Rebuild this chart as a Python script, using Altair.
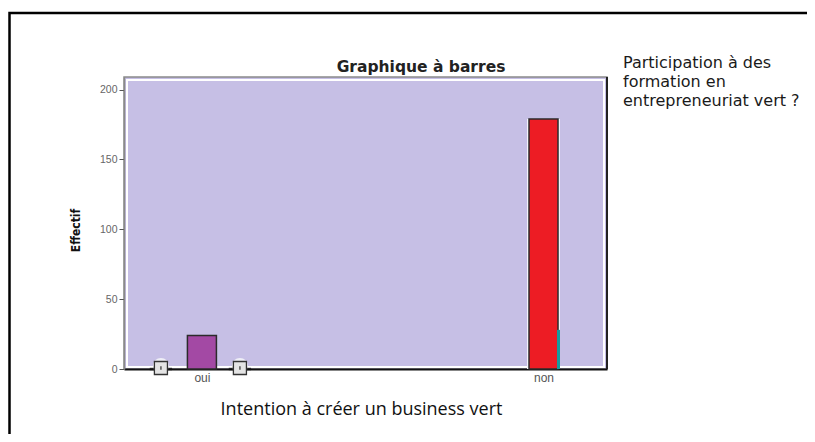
import altair as alt
import pandas as pd

# ---- data ----
intention = ["oui", "non"]
effectif = [24, 179]
bar_colors = ["#A349A4", "#ED1C24"]
sliver_intention = ["non"]
sliver_effectif = [28]
marker_intention = ["oui"]
marker_effectif = [0]
legend_title = ["Participation à des", "formation en", "entrepreneuriat vert ?"]
chart_title = "Graphique à barres"
y_ticks = [0, 50, 100, 150, 200]

bars = pd.DataFrame({"intention": intention, "effectif": effectif})
sliver = pd.DataFrame({"intention": sliver_intention, "effectif": sliver_effectif})
markers = pd.DataFrame({"intention": marker_intention, "effectif": marker_effectif})
one_row = pd.DataFrame({"t": [chart_title]})

W, H = 483, 292

xscale = alt.Scale(type="point", domain=intention, padding=0.207, align=0.551)
yscale = alt.Scale(domain=[0, 209], nice=False)

x_axis = alt.Axis(
    title="Intention à créer un business vert", titleFont="Open Sans", titleFontSize=18,
    titleFontWeight="normal", titleColor="#111", titleX=237, titleY=40, titleBaseline="middle",
    labelFont="Liberation Sans", labelFontSize=12, labelColor="#555", labelPadding=3,
    labelAngle=0, ticks=False, domainColor="#111", domainWidth=2,
)
y_axis = alt.Axis(
    values=y_ticks, title="Effectif", titleFont="DejaVu Sans Condensed", titleFontSize=12,
    titleFontWeight="bold", titleColor="#111", titleX=-49, titleY=153, titleAlign="center",
    titleBaseline="middle", titleAngle=270,
    labelFont="Liberation Sans", labelFontSize=10.5, labelColor="#666", labelPadding=2,
    tickColor="#555", tickSize=5, domainColor="#8a8a8a", domainWidth=1.5, grid=False,
)

X = alt.X("intention:N", scale=xscale, axis=x_axis)
Y = alt.Y("effectif:Q", scale=yscale, axis=y_axis)

inner_border = alt.Chart(one_row).mark_rect(fill=None, stroke="white", strokeWidth=2).encode(
    x=alt.value(3), x2=alt.value(W - 3), y=alt.value(3), y2=alt.value(H - 2)
)

glow = alt.Chart(bars).transform_filter(alt.datum.intention == "non").mark_bar(
    size=33, color="#f4f4fa"
).encode(x=X, y=Y)

main = alt.Chart(bars).mark_bar(size=29, stroke="#2b2b2b", strokeWidth=1.5).encode(
    x=X, y=Y,
    color=alt.Color("intention:N", scale=alt.Scale(domain=intention, range=bar_colors), legend=None),
)

teal = alt.Chart(sliver).mark_bar(size=3, xOffset=15, color="#169c9f").encode(x=X, y=Y)


def marker_layers(off):
    halo = alt.Chart(markers).mark_point(
        shape="circle", size=260, filled=True, fill="#eeeef6", opacity=1, xOffset=off, yOffset=-3
    ).encode(x=X, y=Y)
    line = alt.Chart(markers).mark_point(
        shape="M-1,0L1,0", size=500, stroke="#111", strokeWidth=2.5, xOffset=off
    ).encode(x=X, y=Y)
    sq = alt.Chart(markers).mark_point(
        shape="square", size=170, filled=True, fill="#e4e4e4", stroke="#333",
        strokeWidth=1.3, opacity=1, xOffset=off, yOffset=-1
    ).encode(x=X, y=Y)
    tick = alt.Chart(markers).mark_point(
        shape="M0,-0.6L0,0.6", size=36, stroke="#222", strokeWidth=1.6, xOffset=off, yOffset=-1
    ).encode(x=X, y=Y)
    return [halo, line, sq, tick]


right_border = alt.Chart(one_row).mark_rule(color="#222", strokeWidth=2).encode(
    x=alt.value(W), y=alt.value(0), y2=alt.value(H)
)

title_text = alt.Chart(one_row).mark_text(
    align="center", baseline="alphabetic", font="DejaVu Sans", fontSize=15.5,
    fontWeight="bold", color="#222"
).encode(text=alt.value(chart_title), x=alt.value(297), y=alt.value(-5))

legend_layers = [
    alt.Chart(one_row).mark_text(
        align="left", baseline="middle", font="DejaVu Sans", fontSize=16,
        color="#1a1a1a"
    ).encode(text=alt.value(line), x=alt.value(499), y=alt.value(-14 + 19 * i))
    for i, line in enumerate(legend_title)
]

outer_frame = alt.Chart(one_row).mark_rect(fill=None, stroke="#000", strokeWidth=2.5).encode(
    x=alt.value(-114.5), x2=alt.value(W + 300), y=alt.value(-64), y2=alt.value(H + 120)
)

chart = alt.layer(
    inner_border, glow, main, teal, *marker_layers(-41), *marker_layers(38),
    right_border, title_text, *legend_layers, outer_frame
).properties(
    width=W, height=H,
    autosize=alt.AutoSizeParams(type="none"),
    padding={"left": 116, "top": 69, "right": 200, "bottom": 65},
).configure(
    background="white"
).configure_view(
    fill="#C6BFE5", stroke="#8a8a8a", strokeWidth=1.5
)

chart.save("out.html", embed_options={"renderer": "svg", "actions": False})
